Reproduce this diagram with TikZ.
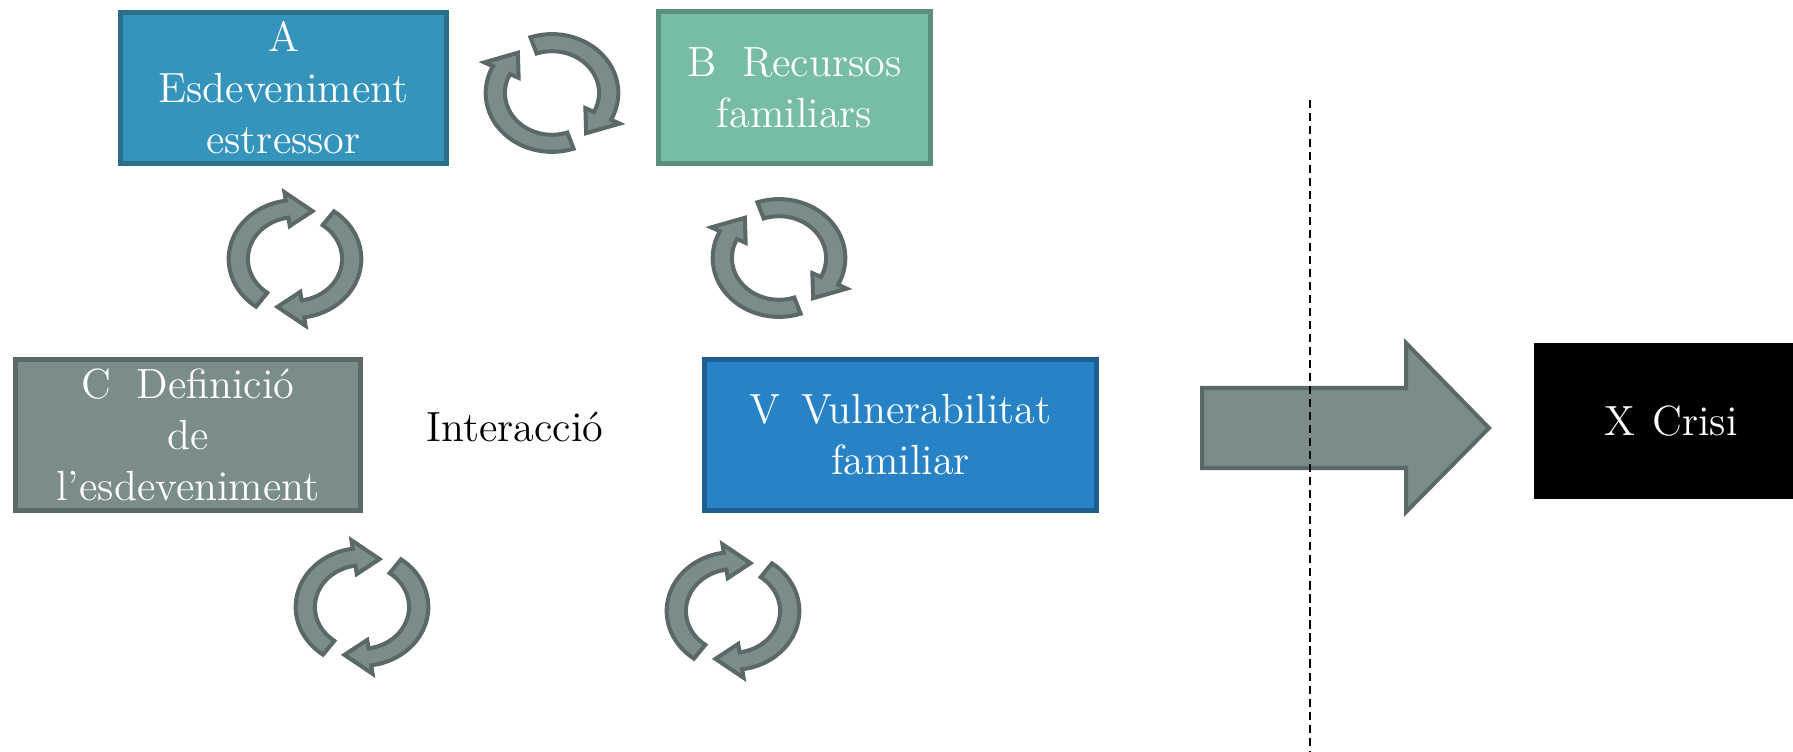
\documentclass[tikz,border=0pt]{standalone}
\usepackage{fontspec}
\definecolor{afill}{HTML}{3594BB}
\definecolor{aline}{HTML}{2A6E8A}
\definecolor{bfill}{HTML}{76BCA6}
\definecolor{bline}{HTML}{5A8F7E}
\definecolor{cfill}{HTML}{7B8C8C}
\definecolor{cline}{HTML}{5A6868}
\definecolor{vfill}{HTML}{2783C6}
\definecolor{vline}{HTML}{1F5E91}
\tikzset{
  box/.style={draw, line width=1.4pt, text=white, align=center, inner sep=0pt,
    font=\fontsize{12}{14.5}\selectfont},
  cycst/.style={fill=cfill, draw=cline, line width=1.14pt, line join=miter},
  pics/cyc/.style={code={
    \foreach \o in {0,180}{
      \filldraw[cycst] plot[domain=0:136,samples=30] ({\x+#1+\o}:62)
        -- ({136+#1+\o}:71) -- ({162+#1+\o}:53) -- ({136+#1+\o}:35)
        -- plot[domain=136:0,samples=30] ({\x+#1+\o}:44) -- cycle;
    }}},
  dashline/.style={draw=black, line width=0.6pt, dash pattern=on 2.3pt off 1.4pt}
}
\begin{document}
\begin{tikzpicture}[x=0.01cm, y=-0.01cm]
\useasboundingbox (0,0) rectangle (1793,752);

% boxes
\node[box, fill=afill, draw=aline, minimum width=3.26cm, minimum height=1.51cm] (A) at (283.5,88) {A\\Esdeveniment\\estressor};
\node[box, fill=bfill, draw=bline, minimum width=2.72cm, minimum height=1.52cm] (B) at (794.5,87.5) {B\hspace{0.6em}Recursos\\familiars};
\node[box, fill=cfill, draw=cline, minimum width=3.45cm, minimum height=1.51cm] (C) at (188,435) {C\hspace{0.6em}Definició\\de\\l’esdeveniment};
\node[box, fill=vfill, draw=vline, minimum width=3.92cm, minimum height=1.51cm] (V) at (900.5,435) {V\hspace{0.5em}Vulnerabilitat\\familiar};

\node[font=\fontsize{12}{14.5}\selectfont] (I) at (515,427) {Interacció};

% circular arrows
\pic[xscale=1.07, yscale=0.95] (c1) at (552,93) {cyc=71};
\pic[xscale=1.07, yscale=0.95] (c2) at (295,259) {cyc=126};
\pic[xscale=1.07, yscale=0.95] (c3) at (779,258) {cyc=71};
\pic[xscale=1.07, yscale=0.95] (c4) at (362,607) {cyc=126};
\pic[xscale=1.07, yscale=0.95] (c5) at (733,611) {cyc=126};

% big arrow
\filldraw[cycst] (1202,388) -- (1406,388) -- (1406,343) -- (1489,428)
  -- (1406,512) -- (1406,468) -- (1202,468) -- cycle;

% dashed line
\coordinate (dtop) at (1310,100);
\coordinate (dbot) at (1310,752);
\draw[dashline] (dtop) -- (dbot);

% crisis box
\node[fill=black, text=white, anchor=west, minimum width=2.8cm, minimum height=1.56cm,
  text width=2.0cm, align=left, inner xsep=0.71cm, inner ysep=0pt,
  font=\fontsize{12}{14.5}\selectfont] (X) at (1533,421) {X\hspace{0.4em}Crisi};
\end{tikzpicture}
\end{document}
